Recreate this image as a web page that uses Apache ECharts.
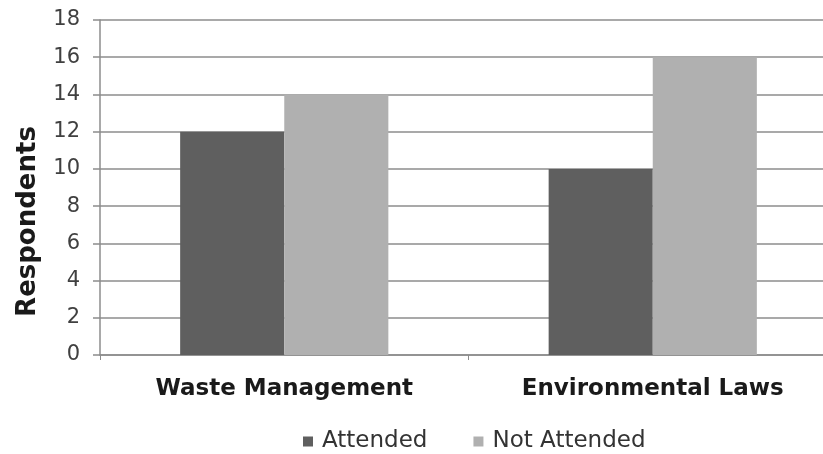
<!DOCTYPE html>
<html><head><meta charset="utf-8">
<script src="https://cdn.jsdelivr.net/npm/echarts@6/dist/echarts.min.js"></script>
<style>html,body{margin:0;padding:0;background:#fff;overflow:hidden;width:823px;height:454px}#c{width:837px;height:454px}</style>
</head><body><div id="c"></div>
<script>
const categories = ['Waste Management', 'Environmental Laws'];
const attended = [12, 10];
const notAttended = [14, 16];
const yTicks = [0, 2, 4, 6, 8, 10, 12, 14, 16, 18];

const FONT = 'DejaVu Sans';
const chart = echarts.init(document.getElementById('c'), null, {renderer: 'canvas'});
chart.setOption({
  animation: false,
  backgroundColor: '#fff',
  grid: {left: 100, right: 0, top: 20, bottom: 99, containLabel: false},
  legend: {
    top: 425, left: 298,
    itemWidth: 10, itemHeight: 10, itemGap: 46,
    icon: 'rect',
    textStyle: {fontFamily: FONT, fontSize: 23, color: '#333', padding: [0, 0, 0, 4]},
    data: ['Attended', 'Not Attended']
  },
  xAxis: {
    type: 'category', data: categories,
    axisLine: {lineStyle: {color: '#8c8c8c', width: 1.5}},
    axisTick: {show: true, alignWithLabel: false, length: 5, lineStyle: {color: '#8c8c8c'}},
    axisLabel: {fontFamily: FONT, fontWeight: 'bold', fontSize: 23, color: '#1a1a1a', margin: 23}
  },
  yAxis: {
    type: 'value', min: yTicks[0], max: yTicks[yTicks.length - 1], interval: 2,
    name: 'Respondents', nameLocation: 'middle', nameGap: 59, nameRotate: 90,
    nameTextStyle: {fontFamily: FONT, fontWeight: 'bold', fontSize: 26, color: '#1a1a1a', padding: [0, 68, 0, 0]},
    axisLine: {show: true, lineStyle: {color: '#8c8c8c', width: 1.5}},
    axisTick: {show: true, length: 7, lineStyle: {color: '#8c8c8c', width: 1.5}},
    axisLabel: {fontFamily: FONT, fontSize: 21, color: '#404040', margin: 20},
    splitLine: {lineStyle: {color: '#8c8c8c', width: 1.5}}
  },
  series: [
    {name: 'Attended', type: 'bar', data: attended, barGap: '0%', barCategoryGap: '43.5%',
     itemStyle: {color: '#5f5f5f'}},
    {name: 'Not Attended', type: 'bar', data: notAttended,
     itemStyle: {color: '#b0b0b0'}}
  ]
});
</script></body></html>
